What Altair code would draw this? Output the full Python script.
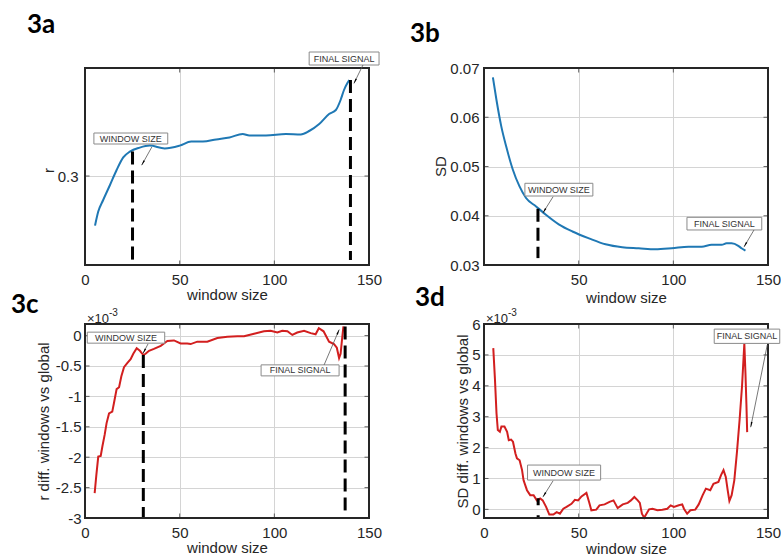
import math
import altair as alt
import pandas as pd

W = 284
H_TOP = 197
H_BOT = 194
FONT = "Liberation Sans"
INK = "#262626"
GRID = "#d4d4d4"
BLUE = "#1f78b4"
RED = "#d21f1f"

X_TICKS = [0, 50, 100, 150]

# ---- 3a : r vs window size
A_X = [5.3, 7, 9.6, 13.2, 16.7, 20.2, 23.7, 28.9, 34.2, 42.1, 50, 56.1, 62.3, 69.3,
       76.3, 83.3, 86.8, 95.6, 106.1, 114, 118.4, 123.7, 128.9, 132.5, 135, 136.8, 138.6, 139.6]
A_Y = [0.2752, 0.2822, 0.288, 0.2955, 0.303, 0.3093, 0.3122, 0.3142, 0.3152, 0.3138, 0.3152,
       0.3172, 0.3172, 0.3183, 0.3193, 0.321, 0.3203, 0.3203, 0.321, 0.3208, 0.3225, 0.326,
       0.331, 0.333, 0.338, 0.343, 0.3465, 0.348]
A_YDOM = [0.2555, 0.354]
A_YTICKS = [0.3]
A_DASH_X = [25.1, 140.2]
A_DASH_Y1 = [0.3122, 0.348]
A_DASH_Y2 = [0.258, 0.258]
A_BOX_X1 = [4.7, 118.4]
A_BOX_X2 = [43.7, 155.3]
A_BOX_Y1 = [0.316, 0.3555]
A_BOX_Y2 = [0.3215, 0.362]
A_ARROWS = [(35.3, 0.3145, 30.0, 0.3055), (146.8, 0.3555, 142.1, 0.3464)]

# ---- 3b : SD vs window size
B_X = [4.7, 6.5, 9.1, 11.7, 15.2, 18.7, 22.2, 27.5, 32.7, 39.7, 46.7, 55.5, 64.2, 73,
       81.7, 90.5, 99.2, 108, 115, 120.2, 125.5, 128.1, 130.8, 134.3, 136, 138.1]
B_Y = [0.0681, 0.0637, 0.0582, 0.0541, 0.0494, 0.046, 0.0436, 0.0419, 0.0402, 0.0382,
       0.0368, 0.0354, 0.0342, 0.0336, 0.0334, 0.0332, 0.0334, 0.0337, 0.0337, 0.0341,
       0.0341, 0.0344, 0.0344, 0.0339, 0.0334, 0.0329]
B_YDOM = [0.03, 0.07]
B_YTICKS = [0.03, 0.04, 0.05, 0.06, 0.07]
B_DASH_X = [28.5]
B_DASH_Y1 = [0.0414]
B_DASH_Y2 = [0.0314]
B_BOX_X1 = [21.6, 107.2]
B_BOX_X2 = [57.5, 146.7]
B_BOX_Y1 = [0.04401, 0.03711]
B_BOX_Y2 = [0.04659, 0.03968]
B_ARROWS = [(36.5, 0.04387, 31.2, 0.04062), (142.6, 0.03711, 137.4, 0.03372)]

# ---- 3c : r diff (x1e-3)
C_X = [5.1, 6, 7, 8.3, 9.2, 10.4, 11.4, 12.7, 14.4, 15.3, 16.7, 18, 19.2, 20.6, 22.4, 24.1,
       25.5, 27.3, 29, 30.8, 32, 33.8, 36.4, 40, 41.7, 43.5, 47, 50.5, 54, 55.8, 59.3, 64.6,
       69.9, 75.2, 80.5, 84, 89.3, 94.5, 98, 101.6, 104.2, 106.9, 109.5, 112.1, 115.7, 119.2,
       121.8, 123.5, 126, 128.9, 131.5, 133.0, 134.2, 135.0, 135.8, 136.5]
C_Y = [-2.59, -2.29, -1.99, -1.98, -1.82, -1.63, -1.44, -1.28, -1.25, -1.11, -0.88, -0.85,
       -0.67, -0.52, -0.45, -0.39, -0.30, -0.21, -0.25, -0.32, -0.30, -0.25, -0.22, -0.17,
       -0.13, -0.09, -0.08, -0.13, -0.13, -0.14, -0.10, -0.10, -0.04, -0.02, -0.01, -0.01,
       0.03, 0.07, 0.08, 0.05, 0.08, 0.07, 0.01, 0.05, 0.08, 0.04, 0.02, 0.12, 0.07, -0.10,
       -0.14, -0.20, -0.37, -0.30, -0.05, 0.15]
C_YDOM = [-3, 0.19]
C_YTICKS = [-3, -2.5, -2, -1.5, -1, -0.5, 0]
C_DASH_X = [30.8, 137.4]
C_DASH_Y1 = [-0.32, 0.15]
C_DASH_Y2 = [-3.0, -2.89]
C_BOX_X1 = [1.2, 93.0]
C_BOX_X2 = [42.1, 134.2]
C_BOX_Y1 = [-0.125, -0.663]
C_BOX_Y2 = [0.056, -0.482]
C_ARROWS = [(33.3, -0.137, 30.7, -0.29), (126.3, -0.482, 134.2, 0.094)]

# ---- 3d : SD diff (x1e-3)
D_X = [4.9, 5.8, 6.6, 7.3, 8.4, 9.2, 10.8, 12.2, 13.1, 14.3, 15.3, 16.6, 17.4, 18.8, 20.1,
       20.9, 22.7, 24.4, 26.2, 27.9, 29.7, 31, 32.8, 34.5, 36.6, 38.4, 40.1, 41.9, 43.6, 46.2,
       48, 49.7, 51.5, 54.1, 55.5, 56.7, 59.3, 61, 63.7, 66.3, 68.4, 70.6, 73.3, 75.9, 77.6,
       79.4, 81.2, 82.3, 83.4, 84.6, 85.8, 87.2, 89, 91.6, 94.2, 96.8, 98.6, 100.3, 102.9,
       104.7, 105.6, 107.3, 109, 111.6, 113.4, 115.5, 117.2, 119.5, 121.2, 123.8, 125.2,
       126.5, 127.7, 128.7, 129.6, 130.8, 132.2, 133.6, 135, 136.3, 137.5, 138.1, 138.6, 139.0]
D_Y = [5.22, 4.19, 3.11, 2.57, 2.51, 2.68, 2.68, 2.51, 2.24, 2.26, 2.19, 1.81, 1.65, 1.59,
       1.27, 0.94, 0.62, 0.46, 0.46, 0.29, 0.35, 0.29, 0.08, -0.17, -0.17, -0.09, -0.14, 0.02,
       0.08, 0.18, 0.31, 0.29, 0.42, 0.53, 0.24, -0.03, -0.01, 0.13, 0.16, 0.24, 0.29, 0.04,
       0.16, 0.21, 0.29, 0.40, 0.29, 0.21, -0.14, -0.27, -0.14, 0, 0.02, -0.03, -0.01, 0.02,
       0.13, 0.08, 0.13, 0.16, 0.02, -0.14, -0.03, -0.01, 0.16, 0.46, 0.67, 0.62, 0.83, 0.89,
       1.11, 1.27, 1.05, 0.62, 0.27, 0.46, 0.94, 1.85, 2.9, 4.0, 5.37, 4.4, 3.4, 2.5]
D_YDOM = [-0.28, 6]
D_YTICKS = [0, 1, 2, 3, 4, 5, 6]
D_DASH_X = [28.6]
D_DASH_Y1 = [0.36]
D_DASH_Y2 = [-0.28]
D_BOX_X1 = [23.0, 121.6]
D_BOX_X2 = [61.6, 156.2]
D_BOX_Y1 = [0.948, 5.372]
D_BOX_Y2 = [1.434, 5.835]
D_ARROWS = [(36.5, 0.926, 31.2, 0.408), (149.6, 5.32, 140.9, 2.67)]

ANN_TEXT = ["WINDOW SIZE", "FINAL SIGNAL"]


def arrow_frame(arrows, ydom, height):
    kx = W / 150.0
    ky = height / (ydom[1] - ydom[0])
    rows = []
    for (x1, y1, x2, y2) in arrows:
        dxp = (x2 - x1) * kx
        dyp = -(y2 - y1) * ky
        ang = math.degrees(math.atan2(dxp, -dyp)) % 360
        L = math.hypot(dxp, dyp)
        back = 3.0
        rows.append(dict(x=x1, y=y1, x2=x2, y2=y2,
                         hx=x2 - (dxp / L) * back / kx,
                         hy=y2 + (dyp / L) * back / ky,
                         ang=ang))
    return pd.DataFrame(rows)


def panel(xs, ys, color, interp, ydom, yticks, ytitle, ttx, tty, height, xtitle_y,
          hide_zero, dash_x, dash_y1, dash_y2, dash_pat, bx1, bx2, by1, by2, arrows,
          label, lx, ly, ypad=5, exp=False, anchor=False):
    xsc = alt.Scale(domain=[0, 150], nice=False, zero=False)
    ysc = alt.Scale(domain=ydom, nice=False, zero=False)

    xexpr = "datum.value == 0 ? '' : '' + datum.value" if hide_zero else "'' + datum.value"
    xaxis = alt.Axis(values=X_TICKS, title="window size", grid=True, gridColor=GRID,
                     gridWidth=1, domain=False, ticks=False, tickSize=0, labelFont=FONT,
                     labelFontSize=15, labelColor=INK, labelPadding=7, labelFlush=False,
                     labelOverlap=False, labelExpr=xexpr, titleFont=FONT, titleFontSize=15,
                     titleFontWeight="normal", titleColor=INK, titleY=xtitle_y,
                     titleBaseline="middle")
    yaxis = alt.Axis(values=yticks, title=ytitle, grid=True, gridColor=GRID, gridWidth=1,
                     domain=False, ticks=False, tickSize=0, labelFont=FONT, labelFontSize=15,
                     labelColor=INK, labelPadding=ypad, labelFlush=False, labelOverlap=False,
                     labelExpr="'' + datum.value", titleFont=FONT, titleFontSize=15,
                     titleFontWeight="normal", titleColor=INK, titleX=ttx, titleY=tty,
                     titleAlign="center", titleBaseline="middle", titleAngle=270)

    def X(f):
        return alt.X(f, type="quantitative", scale=xsc, axis=xaxis)

    def Y(f):
        return alt.Y(f, type="quantitative", scale=ysc, axis=yaxis)

    layers = []
    line = alt.Chart(pd.DataFrame({"x": xs, "y": ys})).mark_line(
        color=color, strokeWidth=2, interpolate=interp).encode(x=X("x"), y=Y("y"))
    layers.append(line)

    xt = pd.DataFrame({"x": X_TICKS})
    yt = pd.DataFrame({"y": yticks})
    for yv in (0, height):
        layers.append(alt.Chart(xt).mark_tick(color=INK, size=9, thickness=1, clip=True)
                      .encode(x=X("x"), y=alt.value(yv)))
    for xv in (0, W):
        layers.append(alt.Chart(yt).mark_tick(color=INK, size=9, thickness=1, clip=True)
                      .encode(y=Y("y"), x=alt.value(xv)))

    dd = pd.DataFrame({"x": dash_x, "y": dash_y1, "y2": dash_y2})
    layers.append(alt.Chart(dd).mark_rule(color="black", strokeWidth=3, strokeDash=dash_pat)
                  .encode(x=X("x"), y=Y("y"), y2="y2"))

    one = pd.DataFrame({"k": [0]})
    # plot-area frame (box around the axes, drawn above the grid)
    layers.append(alt.Chart(one).mark_rect(fill=None, stroke=INK, strokeWidth=2)
                  .encode(x=alt.value(0), x2=alt.value(W), y=alt.value(0),
                          y2=alt.value(height)))

    bd = pd.DataFrame({"bx1": bx1, "bx2": bx2, "by1": by1, "by2": by2, "t": ANN_TEXT})
    bd["tx"] = (bd["bx1"] + bd["bx2"]) / 2
    bd["ty"] = (bd["by1"] + bd["by2"]) / 2
    layers.append(alt.Chart(bd).mark_rect(fill="white", stroke="#8a8a8a", strokeWidth=1)
                  .encode(x=X("bx1"), x2="bx2", y=Y("by1"), y2="by2"))
    layers.append(alt.Chart(bd).mark_text(font=FONT, fontSize=9, color="#333333",
                                          align="center", baseline="middle")
                  .encode(x=X("tx"), y=Y("ty"), text="t:N"))

    ad = arrow_frame(arrows, ydom, height)
    layers.append(alt.Chart(ad).mark_rule(color="#555555", strokeWidth=0.8)
                  .encode(x=X("x"), y=Y("y"), x2="x2", y2="y2"))
    layers.append(alt.Chart(ad).mark_point(shape="wedge", filled=True, size=45, color="black",
                                           opacity=1)
                  .encode(x=X("hx"), y=Y("hy"), angle=alt.Angle("ang:Q", scale=None)))

    layers.append(alt.Chart(one).mark_text(text=label, font="Lato", fontWeight="bold",
                                           fontSize=26, color="black", align="left",
                                           baseline="alphabetic")
                  .encode(x=alt.value(lx), y=alt.value(ly)))
    if exp:
        layers.append(alt.Chart(one).mark_text(text="\u00d710", font=FONT, fontSize=13,
                                               color=INK, align="left", baseline="alphabetic")
                      .encode(x=alt.value(2), y=alt.value(-1)))
        layers.append(alt.Chart(one).mark_text(text="-3", font=FONT, fontSize=10,
                                               color=INK, align="left", baseline="alphabetic")
                      .encode(x=alt.value(24), y=alt.value(-8)))
    if anchor:
        layers.append(alt.Chart(one).mark_rect(fill="white", strokeWidth=0)
                      .encode(x=alt.value(-85), x2=alt.value(-84),
                              y=alt.value(-68), y2=alt.value(-67)))
    return alt.layer(*layers).properties(width=W, height=height)


pa = panel(A_X, A_Y, BLUE, "monotone", A_YDOM, A_YTICKS, "r", -37, 102, H_TOP, 29, False,
           A_DASH_X, A_DASH_Y1, A_DASH_Y2, [13, 6], A_BOX_X1, A_BOX_X2, A_BOX_Y1, A_BOX_Y2,
           A_ARROWS, "3a", -58, -35, ypad=7, anchor=True)
pb = panel(B_X, B_Y, BLUE, "monotone", B_YDOM, B_YTICKS, "SD", -44, 98, H_TOP, 32, True,
           B_DASH_X, B_DASH_Y1, B_DASH_Y2, [13, 6], B_BOX_X1, B_BOX_X2, B_BOX_Y1, B_BOX_Y2,
           B_ARROWS, "3b", -74, -26)
pc = panel(C_X, C_Y, RED, "linear", C_YDOM, C_YTICKS, "r diff. windows vs global", -42, 97,
           H_BOT, 29, False, C_DASH_X, C_DASH_Y1, C_DASH_Y2, [13, 6], C_BOX_X1, C_BOX_X2,
           C_BOX_Y1, C_BOX_Y2, C_ARROWS, "3c", -74, -11, ypad=4, exp=True)
pd_ = panel(D_X, D_Y, RED, "linear", D_YDOM, D_YTICKS, "SD diff. windows vs global", -22, 97,
            H_BOT, 30, False, D_DASH_X, D_DASH_Y1, D_DASH_Y2, [7, 10], D_BOX_X1, D_BOX_X2,
            D_BOX_Y1, D_BOX_Y2, D_ARROWS, "3d", -69, -18, ypad=4, exp=True)

chart = alt.concat(pa, pb, pc, pd_, columns=2, spacing={"row": 59, "column": 115},
                   bounds="flush").properties(padding=0).configure_view(
    stroke=None)

chart.save("out.html", embed_options={"renderer": "svg", "actions": False})
